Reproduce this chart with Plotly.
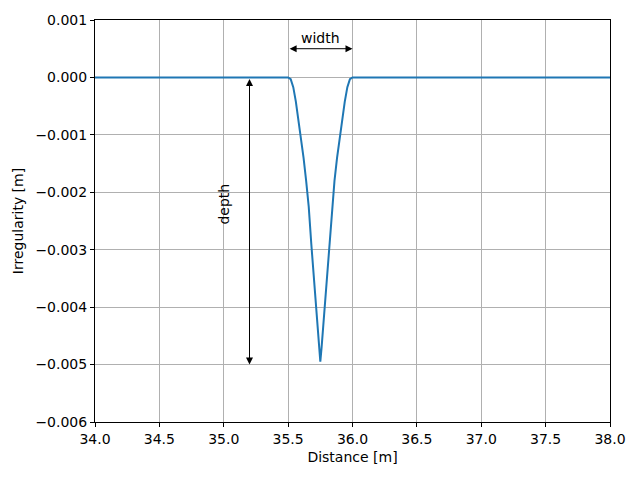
import plotly.graph_objects as go

# Irregularity profile
x = [34.0, 35.5, 35.52, 35.54, 35.56, 35.58, 35.60, 35.62, 35.64, 35.66, 35.68, 35.70, 35.72, 35.74,
     35.75,
     35.76, 35.78, 35.80, 35.82, 35.84, 35.86, 35.88, 35.90, 35.92, 35.94, 35.96, 35.98, 36.0, 38.0]
y = [0.0, 0.0, -0.00003, -0.00017, -0.00042, -0.00072, -0.00105, -0.0014, -0.0018, -0.00225, -0.0029, -0.0035, -0.0041, -0.0047,
     -0.00495,
     -0.0047, -0.0041, -0.0035, -0.0029, -0.00225, -0.0018, -0.0014, -0.00105, -0.00072, -0.00042, -0.00017, -0.00003, 0.0, 0.0]

x_ticks = [34.0, 34.5, 35.0, 35.5, 36.0, 36.5, 37.0, 37.5, 38.0]
y_ticks = [0.001, 0.0, -0.001, -0.002, -0.003, -0.004, -0.005, -0.006]

width_start, width_end, width_y = 35.5, 36.0, 0.0005
depth_x, depth_top, depth_bottom = 35.2, 0.0, -0.005

font = dict(family="DejaVu Sans", size=14, color="black")

fig = go.Figure()
fig.add_trace(go.Scatter(x=x, y=y, mode="lines",
                         line=dict(color="#1f77b4", width=2), showlegend=False))

fig.add_annotation(x=width_end, y=width_y, ax=width_start, ay=width_y,
                   xref="x", yref="y", axref="x", ayref="y", text="",
                   showarrow=True, arrowhead=2, startarrowhead=2, arrowside="end+start",
                   arrowsize=1.4, arrowwidth=1, arrowcolor="black")
fig.add_annotation(x=(width_start + width_end) / 2, y=width_y, xref="x", yref="y",
                   text="width", showarrow=False, yshift=11, font=font)
fig.add_annotation(x=depth_x, y=depth_bottom, ax=depth_x, ay=depth_top,
                   xref="x", yref="y", axref="x", ayref="y", text="",
                   showarrow=True, arrowhead=2, startarrowhead=2, arrowside="end+start",
                   arrowsize=1.4, arrowwidth=1, arrowcolor="black")
fig.add_annotation(x=35.0, y=-0.0022, xref="x", yref="y", text="depth",
                   showarrow=False, textangle=-90, font=font)

axis_common = dict(showline=True, linecolor="black", linewidth=1, mirror=True,
                   ticks="outside", ticklen=4, tickcolor="black",
                   showgrid=True, gridcolor="#b0b0b0", gridwidth=1, zeroline=False,
                   tickfont=font)
fig.update_xaxes(range=[34, 38], tickvals=x_ticks, tickformat=".1f",
                 title=dict(text="Distance [m]", font=font, standoff=6), **axis_common)
fig.update_yaxes(range=[-0.006, 0.001], tickvals=y_ticks, tickformat=".3f",
                 title=dict(text="Irregularity [m]", font=font, standoff=8), **axis_common)

fig.update_layout(width=640, height=480, margin=dict(l=95, r=30, t=20, b=58),
                  plot_bgcolor="white", paper_bgcolor="white", font=font)
fig.write_html("out.html")
